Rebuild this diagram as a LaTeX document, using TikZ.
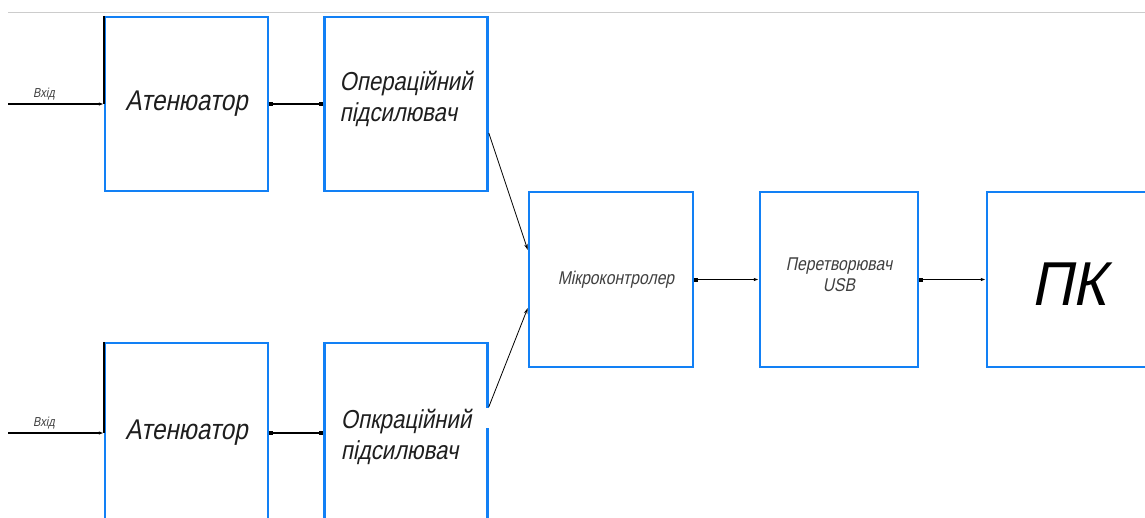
\documentclass[tikz,border=0pt]{standalone}
\usepackage{fontspec}
\newfontfamily\gost[FakeStretch=0.85,FakeSlant=0.2]{Liberation Sans}
\newfontfamily\gostw[FakeStretch=0.93,FakeSlant=0.2]{Liberation Sans}
\usetikzlibrary{arrows.meta}
\definecolor{boxblue}{RGB}{18,128,245}
\definecolor{ink}{RGB}{30,30,30}
\tikzset{
  blk/.style={draw=boxblue, line width=2.5pt, minimum width=163pt, minimum height=174pt,
    inner sep=0pt, text=ink, font=\gost\fontsize{28.5}{33}\selectfont, align=left},
  bigtxt/.style={font=\gost\fontsize{26}{31}\selectfont, text=ink, align=left},
  smalltxt/.style={font=\gost\fontsize{18.5}{21}\selectfont, text=ink!85, align=center},
  wire/.style={line width=1.1pt, black},
  thin/.style={line width=0.8pt, black},
  tipA/.style={-{Latex[length=5pt,width=3.5pt]}},
  tipAA/.style={{Square[length=4pt,width=4pt]}-{Square[length=4pt,width=4pt]}},
  tipDA/.style={{Square[length=4pt,width=4pt]}-{Latex[length=5pt,width=3.5pt]}},
}
\begin{document}
\begin{tikzpicture}[x=1pt,y=-1pt]
\useasboundingbox (0,0) rectangle (1145,517);
\clip (0,0) rectangle (1145,517);
\fill[white] (0,0) rectangle (1145,517);
% top gray rule
\coordinate (r1) at (8,12);
\coordinate (r2) at (1145,12);
\draw[black!20, line width=1pt] (r1) -- (r2);
% blocks
\node[blk] (att1) at (186.5,104) {Атенюатор};
\node[blk, label={[yshift=5pt, bigtxt]center:Операційний\\підсилювач}] (op1) at (406,104) {};
\node[blk, minimum height=180pt] (att2) at (186.5,433) {Атенюатор};
\node[blk, minimum height=180pt, label={[yshift=-4pt, bigtxt]center:Опкраційний\\підсилювач}] (op2) at (406,433) {};
\node[blk, minimum width=164pt, minimum height=175pt, label={[xshift=5pt, smalltxt]center:Мікроконтролер}] (mc) at (611,279.5) {};
\node[blk, minimum width=158pt, minimum height=175pt, label={[yshift=5pt, smalltxt]center:Перетворювач\\USB}] (usb) at (839,279.5) {};
\node[blk, minimum width=166pt, minimum height=175pt, label={[yshift=-5pt, xshift=-1pt, font=\gostw\fontsize{62}{70}\selectfont, text=black]center:ПК}] (pk) at (1070,279.5) {};
% black top parts of the left edges
\draw[line width=2.5pt, black] (att1.north west) -- (att1.west);
\draw[line width=2.5pt, black] (att2.north west) -- (att2.west);
% gap on the right edge of op2
\draw[white, line width=3.5pt] (488,408) -- (488,428);
% inputs
\coordinate (in1) at (8,104);
\coordinate (in2) at (8,433);
\node[font=\gost\fontsize{13}{15}\selectfont, text=ink!85] (lb1) at (44,94) {Вхід};
\node[font=\gost\fontsize{13}{15}\selectfont, text=ink!85] (lb2) at (44,423) {Вхід};
\draw[wire, tipA] (in1) -- (att1.west);
\draw[wire, tipA] (in2) -- (att2.west);
% attenuator -> op amp
\draw[wire, tipAA] (att1.east) -- (op1.west);
\draw[wire, tipAA] (att2.east) -- (op2.west);
% op amps -> microcontroller
\coordinate (o1) at (op1.east |- 0,133);
\coordinate (m1) at (mc.west |- 0,250);
\coordinate (o2) at (op2.east |- 0,407);
\coordinate (m2) at (mc.west |- 0,308);
\draw[thin, -{Stealth[length=6pt,width=3.5pt]}] (o1) -- (m1);
\draw[thin, -{Stealth[length=6pt,width=3.5pt]}] (o2) -- (m2);
% mc -> usb -> pk
\draw[wire, tipDA] (mc.east) -- (usb.west);
\draw[wire, tipDA] (usb.east) -- (pk.west);
\end{tikzpicture}
\end{document}
